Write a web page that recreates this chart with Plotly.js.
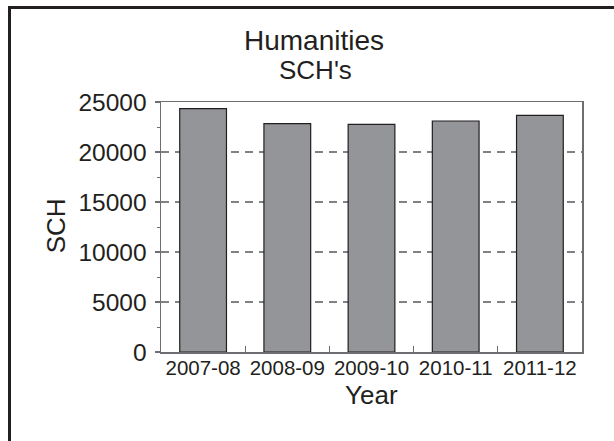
<!DOCTYPE html>
<html>
<head>
<meta charset="utf-8">
<script src="https://cdn.plot.ly/plotly-3.0.1.min.js"></script>
<style>
  html, body { margin: 0; padding: 0; background: #ffffff; }
  #wrap { position: relative; width: 614px; height: 441px; overflow: hidden; }
  #chart { position: absolute; left: 0; top: 0; width: 614px; height: 441px; }
  #frame { position: absolute; left: 8px; top: 6px; width: 620px; height: 460px;
           border-top: 3px solid #231f20; border-left: 3px solid #231f20; pointer-events: none; }
</style>
</head>
<body>
<div id="wrap">
  <div id="chart"></div>
  <div id="frame"></div>
</div>
<script>
// ---- data ----
const years = ['2007-08', '2008-09', '2009-10', '2010-11', '2011-12'];
const sch = [24340, 22840, 22770, 23100, 23670];
const yTickVals = [0, 5000, 10000, 15000, 20000, 25000];
const yTickText = ['0', '5000', '10000', '15000', '20000', '25000'];

const FONT = 'Liberation Sans, Arial, Helvetica, sans-serif';
const INK = '#231f20';
const AXIS = '#6d6e71';

const trace = {
  type: 'bar',
  x: years,
  y: sch,
  marker: { color: '#939598', line: { color: INK, width: 1.2 } },
  hoverinfo: 'skip'
};

const layout = {
  width: 614,
  height: 441,
  margin: { l: 161, r: 32, t: 102, b: 89 },
  paper_bgcolor: '#ffffff',
  plot_bgcolor: '#ffffff',
  showlegend: false,
  bargap: 0.445,
  font: { family: FONT, color: INK },
  xaxis: {
    type: 'category',
    showgrid: false,
    zeroline: false,
    showline: true,
    linecolor: AXIS,
    linewidth: 1.5,
    mirror: true,
    ticks: 'inside',
    tickson: 'boundaries',
    ticklen: 6,
    tickwidth: 1.2,
    tickcolor: AXIS,
    tickangle: 0,
    ticklabelstandoff: -3,
    tickfont: { family: FONT, size: 20.5, color: INK }
  },
  yaxis: {
    range: [0, 25000],
    tickvals: yTickVals,
    ticktext: yTickText,
    showgrid: true,
    gridcolor: '#808285',
    gridwidth: 1.5,
    griddash: '8px,6px',
    zeroline: false,
    showline: true,
    linecolor: AXIS,
    linewidth: 1.5,
    mirror: true,
    ticks: 'outside',
    ticklen: 5,
    tickwidth: 1.2,
    tickcolor: AXIS,
    ticklabelstandoff: 3,
    tickfont: { family: FONT, size: 24.5, color: INK },
    minor: { dtick: 2500, ticks: 'outside', ticklen: 3, tickcolor: AXIS, tickwidth: 1, showgrid: false }
  },
  annotations: [
    { text: 'Humanities', xref: 'paper', yref: 'paper', x: 0.3634, y: 1.245,
      xanchor: 'center', yanchor: 'middle', showarrow: false,
      font: { family: FONT, size: 28, color: INK } },
    { text: "SCH's", xref: 'paper', yref: 'paper', x: 0.3658, y: 1.128,
      xanchor: 'center', yanchor: 'middle', showarrow: false,
      font: { family: FONT, size: 26, color: INK } },
    { text: 'Year', xref: 'paper', yref: 'paper', x: 0.5, y: -0.1724,
      xanchor: 'center', yanchor: 'middle', showarrow: false,
      font: { family: FONT, size: 26, color: INK } },
    { text: 'SCH', xref: 'paper', yref: 'paper', x: -0.2494, y: 0.5028,
      xanchor: 'center', yanchor: 'middle', showarrow: false, textangle: -90,
      font: { family: FONT, size: 26, color: INK } }
  ]
};

Plotly.newPlot('chart', [trace], layout, { staticPlot: true, displayModeBar: false });
</script>
</body>
</html>
